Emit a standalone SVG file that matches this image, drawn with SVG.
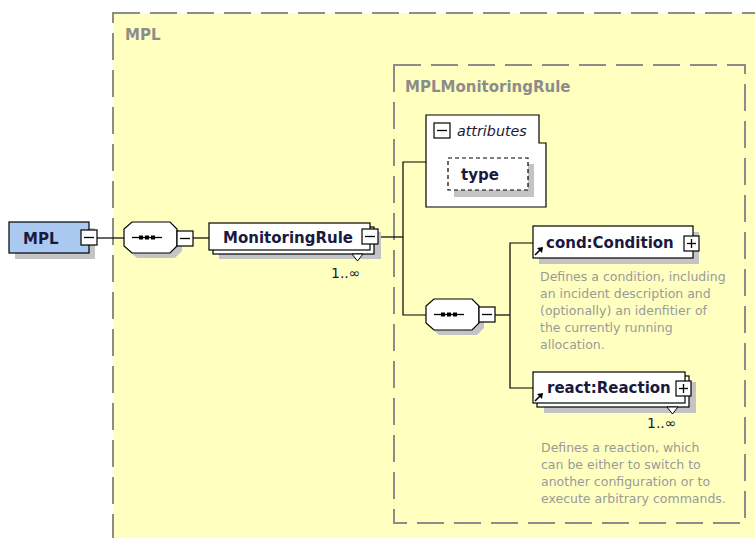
<svg xmlns="http://www.w3.org/2000/svg" width="755" height="538" viewBox="0 0 755 538">
  <style>
    .group-box { fill: #ffffc0; stroke: #8c8c8c; stroke-width: 2; stroke-dasharray: 27 10; }
    .group-label { font-family: "DejaVu Sans", Verdana, sans-serif; font-weight: bold; font-size: 15px; fill: #8c8c8c; }
    .shadow { fill: #c4c4c4; stroke: none; }
    .el { fill: #ffffff; stroke: #000000; stroke-width: 1.2; }
    .root { fill: #a9c9f1; stroke: #000000; stroke-width: 1.2; }
    .label { font-family: "DejaVu Sans", Verdana, sans-serif; font-weight: bold; font-size: 15px; fill: #1a1a40; }
    .attr { font-family: "DejaVu Sans", Verdana, sans-serif; font-style: italic; font-size: 14.3px; fill: #1a1a40; }
    .doc { font-family: "DejaVu Sans", Verdana, sans-serif; font-size: 12.5px; fill: #9a9a9a; }
    .occ { font-family: "DejaVu Sans", Verdana, sans-serif; font-size: 14px; fill: #1a1a40; }
    .wire { fill: none; stroke: #000000; stroke-width: 1.2; }
    .toggle { fill: #ffffff; stroke: #000000; stroke-width: 1.2; }
    .glyph { stroke: #000000; stroke-width: 1.3; fill: none; }
  </style>
  <defs>
    <!-- collapse / expand boxes -->
    <g id="minus">
      <rect class="toggle" x="0" y="0" width="16" height="15"/>
      <line class="glyph" x1="3" y1="7.5" x2="13" y2="7.5"/>
    </g>
    <g id="plus">
      <rect class="toggle" x="0" y="0" width="15" height="15"/>
      <line class="glyph" x1="3" y1="7.5" x2="12" y2="7.5"/>
      <line class="glyph" x1="7.5" y1="3" x2="7.5" y2="12"/>
    </g>
    <!-- sequence compositor: octagon with dotted line -->
    <g id="sequence">
      <polygon class="shadow" points="13,5 51,5 58,12 58,29 51,36 13,36 5,29 5,12"/>
      <polygon class="el" points="8,0 46,0 53,7 53,24 46,31 8,31 0,24 0,7"/>
      <line class="glyph" x1="8" y1="15.5" x2="38" y2="15.5"/>
      <rect x="15" y="13.5" width="4" height="4" fill="#000"/>
      <rect x="21" y="13.5" width="4" height="4" fill="#000"/>
      <rect x="27" y="13.5" width="4" height="4" fill="#000"/>
    </g>
    <!-- reference arrow inside element boxes -->
    <g id="refarrow">
      <line x1="0" y1="8" x2="5" y2="3" stroke="#000" stroke-width="1.6"/>
      <polygon points="8,0 2,1 7,6" fill="#000"/>
    </g>
  </defs>

  <rect x="0" y="0" width="755" height="538" fill="#ffffff"/>

  <!-- complexType containers -->
  <g id="container-MPL">
    <rect class="group-box" x="113" y="13" width="700" height="600"/>
    <text class="group-label" x="125" y="40">MPL</text>
  </g>
  <g id="container-MPLMonitoringRule">
    <rect class="group-box" x="394" y="65" width="351" height="458"/>
    <text class="group-label" x="405" y="92">MPLMonitoringRule</text>
  </g>

  <!-- connectors -->
  <g id="connectors">
    <line class="wire" x1="97" y1="238" x2="124" y2="238"/>
    <line class="wire" x1="193" y1="238" x2="209" y2="238"/>
    <polyline class="wire" points="378,237 403,237"/>
    <polyline class="wire" points="426,162 403,162 403,315 426,315"/>
    <polyline class="wire" points="495,315 510,315"/>
    <polyline class="wire" points="533,243 510,243 510,388 533,388"/>
  </g>

  <!-- root element -->
  <g id="node-MPL">
    <rect class="shadow" x="15" y="228" width="80" height="31"/>
    <rect class="root" x="9" y="222" width="80" height="31"/>
    <text class="label" x="23" y="244">MPL</text>
    <use href="#minus" x="81" y="230"/>
  </g>

  <g id="node-sequence-1">
    <use href="#sequence" x="124" y="222"/>
    <use href="#minus" x="177" y="231"/>
  </g>

  <g id="node-MonitoringRule">
    <rect class="shadow" x="219" y="232" width="162" height="27"/>
    <rect class="el" x="213" y="227" width="161" height="27"/>
    <rect class="el" x="209" y="223" width="161" height="27"/>
    <text class="label" x="223" y="243">MonitoringRule</text>
    <use href="#minus" x="362" y="229"/>
    <polygon points="352,254 357.5,261 363,254" fill="#ffffff" stroke="#000" stroke-width="1"/>
    <text class="occ" x="331" y="278">1..∞</text>
  </g>

  <g id="node-attributes">
    <path class="el" d="M426,115 H539 V143 H546 V207 H426 Z"/>
    <use href="#minus" x="434" y="123"/>
    <text class="attr" x="457" y="136">attributes</text>
  </g>

  <g id="node-type">
    <rect class="shadow" x="454" y="164" width="80" height="33"/>
    <rect x="448" y="158" width="80" height="32" fill="#ffffff" stroke="#000" stroke-width="1.2" stroke-dasharray="4 3"/>
    <text class="label" x="461" y="180">type</text>
  </g>

  <g id="node-sequence-2">
    <use href="#sequence" x="426" y="299"/>
    <use href="#minus" x="479" y="307"/>
  </g>

  <g id="node-cond">
    <rect class="shadow" x="539" y="232" width="160" height="32"/>
    <rect class="el" x="533" y="226" width="160" height="32"/>
    <use href="#refarrow" x="535" y="247"/>
    <text class="label" x="546" y="248">cond:Condition</text>
    <use href="#plus" x="684" y="236"/>
    <text class="doc">
      <tspan x="540" y="281">Defines a condition, including</tspan>
      <tspan x="540" y="298">an incident description and</tspan>
      <tspan x="540" y="315">(optionally) an idenfitier of</tspan>
      <tspan x="540" y="332">the currently running</tspan>
      <tspan x="540" y="349">allocation.</tspan>
    </text>
  </g>

  <g id="node-react">
    <rect class="shadow" x="544" y="382" width="152" height="31"/>
    <rect class="el" x="537" y="376" width="152" height="31"/>
    <rect class="el" x="533" y="372" width="152" height="31"/>
    <use href="#refarrow" x="535" y="393"/>
    <text class="label" x="547" y="393">react:Reaction</text>
    <use href="#plus" x="676" y="381"/>
    <polygon points="667,407 672.5,414 678,407" fill="#ffffff" stroke="#000" stroke-width="1"/>
    <text class="occ" x="647" y="428">1..∞</text>
    <text class="doc">
      <tspan x="541" y="452">Defines a reaction, which</tspan>
      <tspan x="541" y="469">can be either to switch to</tspan>
      <tspan x="541" y="486">another configuration or to</tspan>
      <tspan x="541" y="503">execute arbitrary commands.</tspan>
    </text>
  </g>
</svg>
